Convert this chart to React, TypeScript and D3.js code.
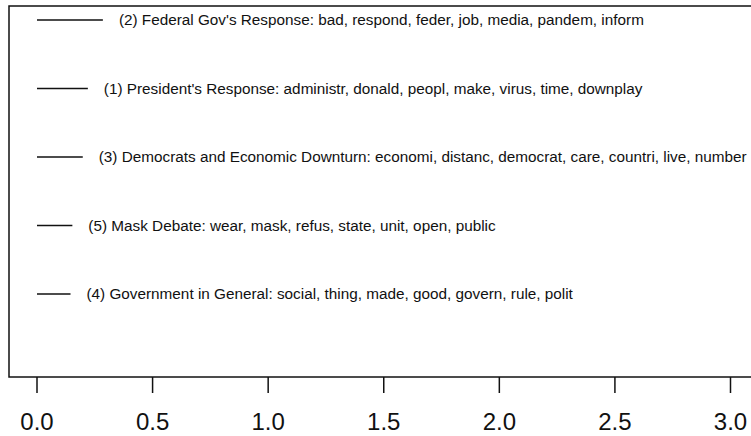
import React from "react";
import * as d3 from "d3";

const topicLabels = [
  "(2) Federal Gov's Response: bad, respond, feder, job, media, pandem, inform",
  "(1) President's Response: administr, donald, peopl, make, virus, time, downplay",
  "(3) Democrats and Economic Downturn: economi, distanc, democrat, care, countri, live, number",
  "(5) Mask Debate: wear, mask, refus, state, unit, open, public",
  "(4) Government in General: social, thing, made, good, govern, rule, polit",
];
const proportions = [0.285, 0.22, 0.198, 0.153, 0.145];
const xTicks = [0, 0.5, 1, 1.5, 2, 2.5, 3];

const W = 751;
const H = 436;

export default function App() {
  const x = d3.scaleLinear().domain([0, 3]).range([37, 730.5]);
  const y = d3.scaleLinear().domain([0, topicLabels.length - 1]).range([20, 294]);
  const frame = { left: 9, top: 6, right: 760, bottom: 377 };
  const font = "Liberation Sans, Arial, Helvetica, sans-serif";
  return (
    <svg
      width={W}
      height={H}
      style={{ position: "absolute", left: 0, top: 0, background: "#fff" }}
      fontFamily={font}
    >
      <rect
        x={frame.left}
        y={frame.top}
        width={frame.right - frame.left}
        height={frame.bottom - frame.top}
        fill="none"
        stroke="#111"
        strokeWidth={1.5}
      />
      {proportions.map((v, i) => (
        <g key={i}>
          <line x1={x(0)} x2={x(v)} y1={y(i)} y2={y(i)} stroke="#111" strokeWidth={1.5} />
          <text x={x(v) + 16} y={y(i)} dy="0.35em" fontSize={15.3} fill="#111">
            {topicLabels[i]}
          </text>
        </g>
      ))}
      {xTicks.map((t) => (
        <g key={t}>
          <line x1={x(t)} x2={x(t)} y1={frame.bottom} y2={frame.bottom + 16} stroke="#111" strokeWidth={1.5} />
          <text x={x(t)} y={430} textAnchor="middle" fontSize={24} fill="#111">
            {d3.format(".1f")(t)}
          </text>
        </g>
      ))}
    </svg>
  );
}
